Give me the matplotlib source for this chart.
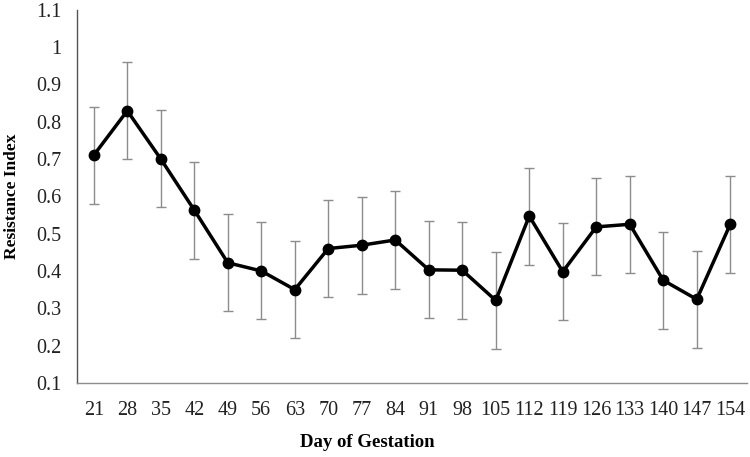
import matplotlib.pyplot as plt

# Resistance index over gestation
days = ["21", "28", "35", "42", "49", "56", "63", "70", "77", "84",
        "91", "98", "105", "112", "119", "126", "133", "140", "147", "154"]
ri_mean = [0.71, 0.829, 0.70, 0.563, 0.422, 0.400, 0.350, 0.460, 0.469, 0.483,
           0.403, 0.402, 0.321, 0.547, 0.398, 0.518, 0.525, 0.375, 0.324, 0.525]
ri_err = [0.13] * 20

plt.rcParams["font.family"] = ["Liberation Serif", "DejaVu Serif"]

fig = plt.figure(figsize=(7.5, 4.57), dpi=100)
ax = fig.add_axes([0.1027, 0.162, 0.8933, 0.817])

x = list(range(len(days)))
ax.errorbar(x, ri_mean, yerr=ri_err, fmt="none", ecolor="#8c8c8c",
            elinewidth=1.0, capsize=3.5, capthick=1.0, zorder=2)
ax.plot(x, ri_mean, color="black", linewidth=2.5, marker="o",
        markersize=7.5, zorder=3)

ax.set_xlim(-0.5, len(days) - 0.5)
ax.set_ylim(0.1, 1.1)
ax.set_yticks([0.1, 0.2, 0.3, 0.4, 0.5, 0.6, 0.7, 0.8, 0.9, 1.0, 1.1])
ax.set_yticklabels(["0.1", "0.2", "0.3", "0.4", "0.5", "0.6", "0.7",
                    "0.8", "0.9", "1", "1.1"])
ax.set_xticks(x)
ax.set_xticklabels(days)

ax.tick_params(axis="both", length=0, labelsize=14.5, colors="#222222")
ax.tick_params(axis="x", pad=13)
ax.tick_params(axis="y", pad=11)

for side in ["top", "right"]:
    ax.spines[side].set_visible(False)
ax.spines["left"].set_color("#555555")
ax.spines["bottom"].set_color("#8c8c8c")
ax.spines["left"].set_linewidth(1.0)
ax.spines["bottom"].set_linewidth(1.0)

ax.set_xlabel("Day of Gestation", fontsize=13.5, fontweight="bold")
ax.xaxis.set_label_coords(0.433, -0.137)
ax.set_ylabel("Resistance Index", fontsize=12.5, fontweight="bold", labelpad=12)

fig.savefig("out.png", dpi=100)
